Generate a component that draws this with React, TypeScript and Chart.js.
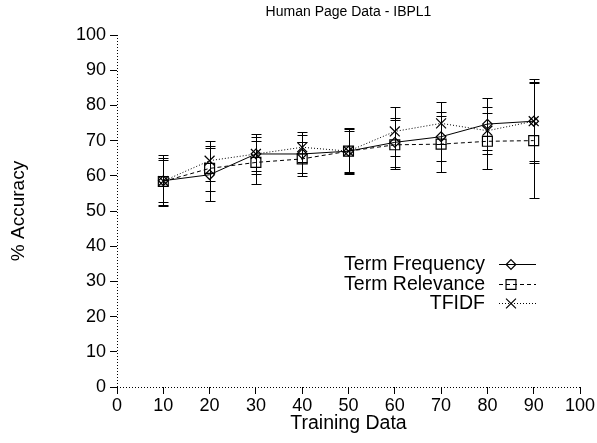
import React, { useEffect, useRef } from "react";
import { Chart, registerables } from "chart.js";

Chart.register(...registerables);

const xValues = [10, 20, 30, 40, 50, 60, 70, 80, 90];
const termFrequency = [58.6, 60.3, 66.2, 66.2, 67.0, 69.5, 71.1, 74.7, 75.5];
const termFrequencyErr = [7.3, 7.6, 5.7, 5.5, 6.2, 7.0, 7.0, 7.4, 11.2];
const termRelevance = [58.4, 62.1, 63.8, 64.8, 67.0, 68.8, 69.0, 69.8, 70.0];
const termRelevanceErr = [6.6, 6.3, 6.1, 4.9, 5.8, 7.0, 8.0, 8.0, 16.3];
const tfidf = [58.5, 64.3, 66.2, 68.1, 67.0, 72.6, 74.9, 72.8, 75.5];
const tfidfErr = [6.0, 5.7, 4.8, 4.3, 6.5, 6.9, 6.0, 6.7, 12.0];

const seriesNames = ["Term Frequency", "Term Relevance", "TFIDF"];
const titleText = "Human Page Data - IBPL1";
const xTitle = "Training Data";
const yTitle = "% Accuracy";

const FONT = "'Liberation Sans', Arial, Helvetica, sans-serif";

const styles = [
  { dash: [] as number[], pointStyle: "rectRot", radius: 4.8 },
  { dash: [4, 3], pointStyle: "rect", radius: 7 },
  { dash: [1, 2], pointStyle: "crossRot", radius: 7 },
];

const seriesList = [
  { name: seriesNames[0], values: termFrequency, errs: termFrequencyErr },
  { name: seriesNames[1], values: termRelevance, errs: termRelevanceErr },
  { name: seriesNames[2], values: tfidf, errs: tfidfErr },
];

function drawMarker(ctx: CanvasRenderingContext2D, style: string, r: number, x: number, y: number) {
  ctx.beginPath();
  if (style === "rectRot") {
    ctx.moveTo(x, y - r);
    ctx.lineTo(x + r, y);
    ctx.lineTo(x, y + r);
    ctx.lineTo(x - r, y);
    ctx.closePath();
  } else if (style === "rect") {
    const s = Math.SQRT1_2 * r;
    ctx.rect(x - s, y - s, 2 * s, 2 * s);
  } else {
    const o = Math.SQRT1_2 * r;
    ctx.moveTo(x - o, y - o);
    ctx.lineTo(x + o, y + o);
    ctx.moveTo(x + o, y - o);
    ctx.lineTo(x - o, y + o);
  }
  ctx.stroke();
}

const axisLinePlugin = {
  id: "axisLines",
  beforeDatasetsDraw(chart: any) {
    const ctx = chart.ctx;
    const a = chart.chartArea;
    ctx.save();
    ctx.strokeStyle = "#000";
    ctx.lineWidth = 1;
    ctx.setLineDash([1, 2]);
    ctx.beginPath();
    ctx.moveTo(Math.round(a.left) + 0.5, a.top);
    ctx.lineTo(Math.round(a.left) + 0.5, a.bottom);
    ctx.moveTo(a.left, Math.round(a.bottom) + 0.5);
    ctx.lineTo(a.right, Math.round(a.bottom) + 0.5);
    ctx.stroke();
    ctx.restore();
  },
};

const errorBarPlugin = {
  id: "errorBars",
  afterDatasetsDraw(chart: any) {
    const ctx = chart.ctx;
    const yScale = chart.scales.y;
    ctx.save();
    ctx.strokeStyle = "#000";
    ctx.lineWidth = 1;
    ctx.setLineDash([]);
    chart.data.datasets.forEach((ds: any, i: number) => {
      const meta = chart.getDatasetMeta(i);
      const errs = seriesList[i].errs;
      meta.data.forEach((pt: any, j: number) => {
        const v = ds.data[j].y;
        const e = errs[j];
        const x = Math.round(pt.x) + 0.5;
        const yTop = Math.round(yScale.getPixelForValue(v + e)) + 0.5;
        const yBot = Math.round(yScale.getPixelForValue(v - e)) + 0.5;
        ctx.beginPath();
        ctx.moveTo(x, yTop);
        ctx.lineTo(x, yBot);
        ctx.moveTo(x - 5, yTop);
        ctx.lineTo(x + 5, yTop);
        ctx.moveTo(x - 5, yBot);
        ctx.lineTo(x + 5, yBot);
        ctx.stroke();
      });
    });
    ctx.restore();
  },
};

const textPlugin = {
  id: "texts",
  afterDraw(chart: any) {
    const ctx = chart.ctx;
    const area = chart.chartArea;
    const cx = (area.left + area.right) / 2;
    const cy = (area.top + area.bottom) / 2;
    ctx.save();
    ctx.fillStyle = "#000";
    ctx.textAlign = "center";
    ctx.textBaseline = "middle";
    ctx.font = `14px ${FONT}`;
    ctx.fillText(titleText, cx, 12);
    ctx.font = `19.5px ${FONT}`;
    ctx.fillText(xTitle, cx, 424);
    ctx.save();
    ctx.translate(19, cy);
    ctx.rotate(-Math.PI / 2);
    ctx.font = `19px ${FONT}`;
    ctx.fillText(yTitle, 0, 0);
    ctx.restore();

    // legend
    const legY = [264, 284, 303];
    ctx.font = `19.5px ${FONT}`;
    ctx.textAlign = "right";
    seriesList.forEach((s, i) => {
      const y = legY[i];
      ctx.fillStyle = "#000";
      ctx.fillText(s.name, 485, y + 1);
      ctx.strokeStyle = "#000";
      ctx.lineWidth = 1;
      ctx.setLineDash(styles[i].dash);
      ctx.beginPath();
      ctx.moveTo(499, y + 0.5);
      ctx.lineTo(536, y + 0.5);
      ctx.stroke();
      ctx.setLineDash([]);
      ctx.lineWidth = 1.2;
      drawMarker(ctx, styles[i].pointStyle, styles[i].radius, 511, y + 0.5);
    });
    ctx.restore();
  },
};

export default function App() {
  const ref = useRef<HTMLCanvasElement>(null);
  useEffect(() => {
    if (!ref.current) return;
    const datasets = seriesList.map((s, i) => ({
      label: s.name,
      data: xValues.map((x, j) => ({ x, y: s.values[j] })),
      borderColor: "#000",
      backgroundColor: "rgba(255,255,255,0)",
      borderWidth: 1,
      borderDash: styles[i].dash,
      pointStyle: styles[i].pointStyle,
      pointRadius: styles[i].radius,
      pointBorderColor: "#000",
      pointBackgroundColor: "rgba(255,255,255,0)",
      pointBorderWidth: 1.2,
      tension: 0,
      fill: false,
    }));
    const chart = new Chart(ref.current, {
      type: "line",
      data: { datasets: datasets as any },
      options: {
        animation: false,
        responsive: false,
        maintainAspectRatio: false,
        devicePixelRatio: 1,
        layout: { padding: { top: 35, right: 17, left: 0, bottom: 0 } },
        plugins: {
          legend: { display: false },
          title: { display: false },
          tooltip: { enabled: false },
        },
        scales: {
          x: {
            type: "linear",
            min: 0,
            max: 100,
            ticks: {
              stepSize: 10,
              color: "#000",
              font: { family: FONT, size: 18 },
              padding: 1,
              maxRotation: 0,
              autoSkip: false,
            },
            grid: {
              display: true,
              drawOnChartArea: false,
              drawTicks: true,
              tickLength: 7,
              color: "#000",
              lineWidth: 1,
            },
            border: { display: false },
            afterFit(scale: any) {
              scale.height = 56;
            },
          },
          y: {
            type: "linear",
            min: 0,
            max: 100,
            ticks: {
              stepSize: 10,
              color: "#000",
              font: { family: FONT, size: 18 },
              padding: 4,
            },
            grid: {
              display: true,
              drawOnChartArea: false,
              drawTicks: true,
              tickLength: 7,
              color: "#000",
              lineWidth: 1,
            },
            border: { display: false },
            afterFit(scale: any) {
              scale.width = 117;
            },
          },
        },
      } as any,
      plugins: [axisLinePlugin, errorBarPlugin, textPlugin],
    });
    return () => chart.destroy();
  }, []);
  return (
    <div style={{ position: "fixed", left: 0, top: 0, width: 597, height: 443, background: "#fff" }}>
      <canvas ref={ref} width={597} height={443} />
    </div>
  );
}
